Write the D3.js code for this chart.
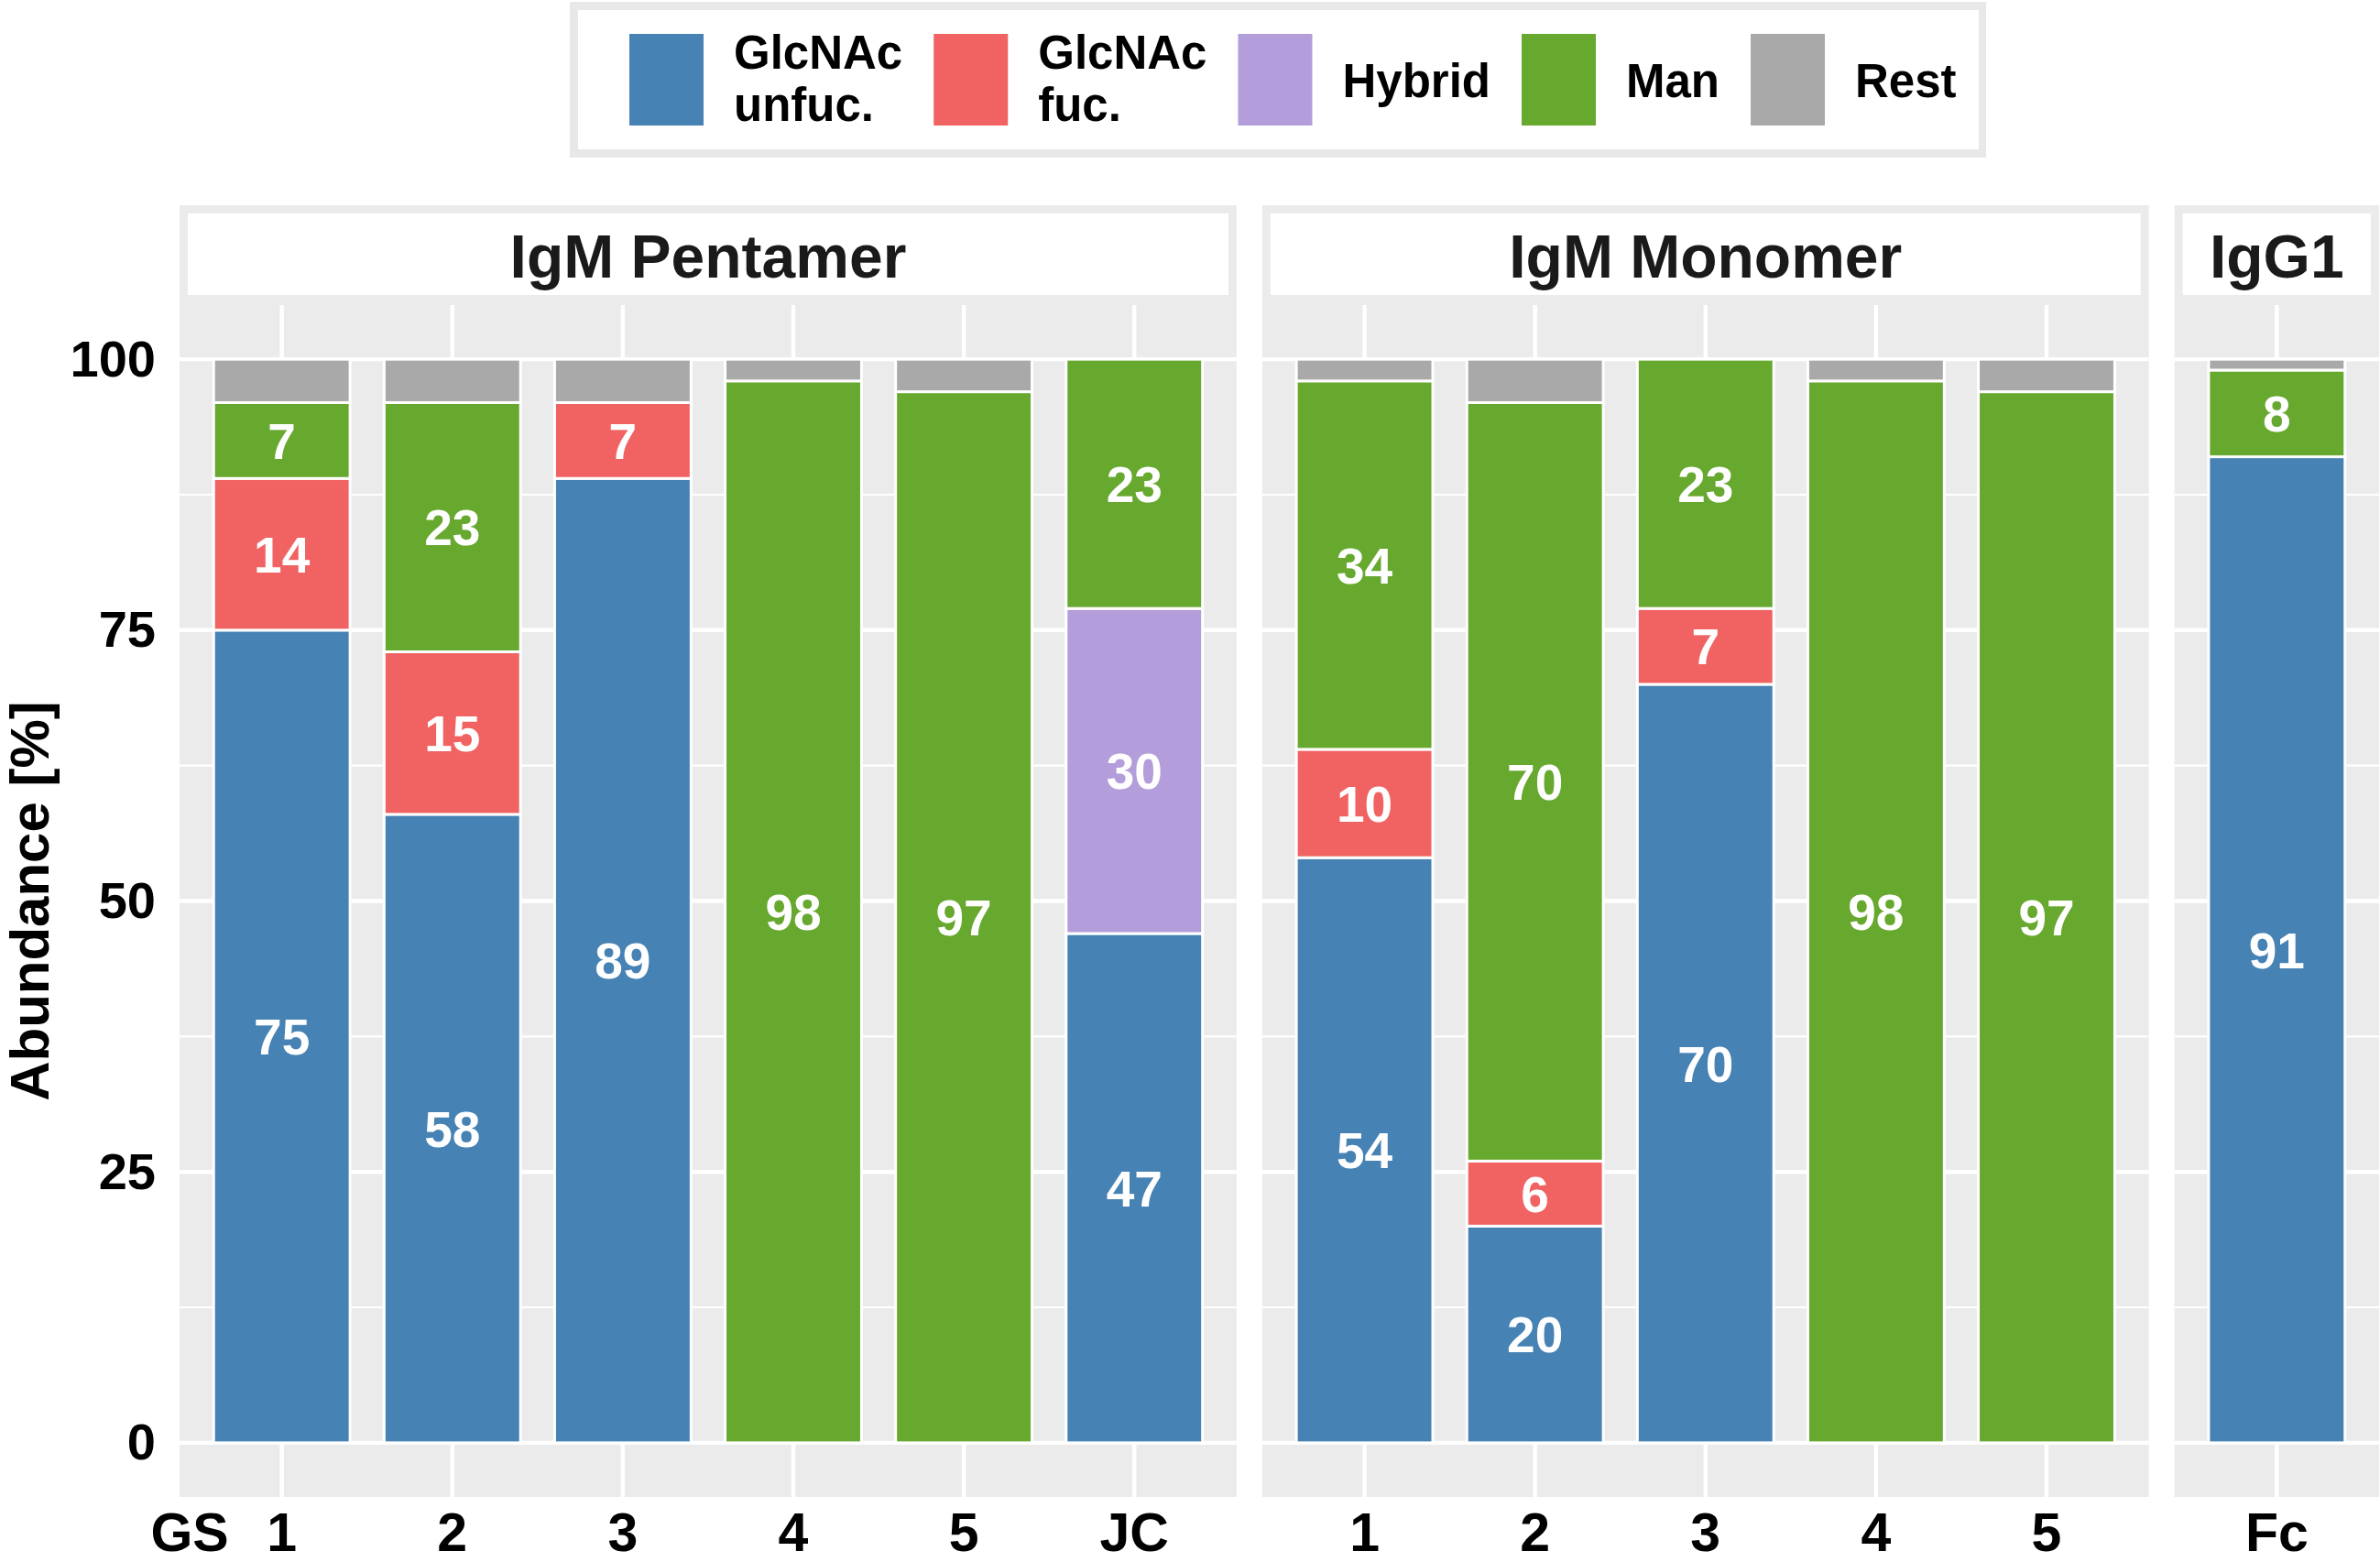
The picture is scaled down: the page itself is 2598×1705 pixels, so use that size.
<!DOCTYPE html>
<html>
<head>
<meta charset="utf-8">
<script src="https://cdn.jsdelivr.net/npm/d3@7"></script>
<style>
  body { margin: 0; background: #fff; }
  text { font-family: "Liberation Sans", Arial, Helvetica, sans-serif; font-weight: bold; }
</style>
</head>
<body>
<div id="chart"></div>
<script>
// ---- data ----
var panelNames = ["IgM Pentamer", "IgM Monomer", "IgG1"];
var pentamerSamples = ["1", "2", "3", "4", "5", "JC"];
var monomerSamples = ["1", "2", "3", "4", "5"];
var igg1Samples = ["Fc"];

var glycanTypes = ["GlcNAc unfuc.", "GlcNAc fuc.", "Hybrid", "Man", "Rest"];
var legendLines = [["GlcNAc", "unfuc."], ["GlcNAc", "fuc."], ["Hybrid"], ["Man"], ["Rest"]];
var glycanColors = ["#4682B4", "#F16363", "#B39DDB", "#67A82E", "#A9A9A9"];

// one value per sample: 6 pentamer, 5 monomer, 1 IgG1
var unfucValues  = [75, 58, 89, 0, 0, 47,   54, 20, 70, 0, 0,   91];
var fucValues    = [14, 15, 7, 0, 0, 0,     10, 6, 7, 0, 0,     0];
var hybridValues = [0, 0, 0, 0, 0, 30,      0, 0, 0, 0, 0,      0];
var manValues    = [7, 23, 0, 98, 97, 23,   34, 70, 23, 98, 97, 8];
var restValues   = [4, 4, 4, 2, 3, 0,       2, 4, 0, 2, 3,      1];

var yTicks = [0, 25, 50, 75, 100];
var yMinorTicks = [12.5, 37.5, 62.5, 87.5];

// ---- layout ----
var width = 2598, height = 1705;
var plotLeft = 196, plotRight = 2597, panelGap = 28;
var stripTop = 224, panelTop = 333, panelBottom = 1634;
var stripBorder = 9;
var panelBg = "#EBEBEB";

var svg = d3.select("#chart").append("svg")
    .attr("width", width)
    .attr("height", height);

var sampleGroups = [pentamerSamples, monomerSamples, igg1Samples];
var seriesValues = [unfucValues, fucValues, hybridValues, manValues, restValues];

var totalUnits = d3.sum(sampleGroups, function(g){ return g.length + 0.2; });
var unit = (plotRight - plotLeft - panelGap * (sampleGroups.length - 1)) / totalUnits;

var y = d3.scaleLinear().domain([-5, 105]).range([panelBottom, panelTop]);
var color = d3.scaleOrdinal().domain(glycanTypes).range(glycanColors);

var offset = 0;
var runningX = plotLeft;

sampleGroups.forEach(function(samples, p){
    var w = (samples.length + 0.2) * unit;
    var x0 = runningX;
    runningX += w + panelGap;

    var rows = samples.map(function(s, i){
        var row = { sample: s };
        glycanTypes.forEach(function(g, k){ row[g] = seriesValues[k][offset + i]; });
        return row;
    });
    offset += samples.length;

    var x = d3.scaleBand()
        .domain(samples)
        .range([x0, x0 + w])
        .paddingInner(0.2)
        .paddingOuter(0.2);

    var g = svg.append("g").attr("class", "panel");

    // panel background + grid
    g.append("rect")
        .attr("x", x0).attr("y", panelTop)
        .attr("width", w).attr("height", panelBottom - panelTop)
        .attr("fill", panelBg);

    g.selectAll(".minor")
        .data(yMinorTicks)
        .enter().append("line")
        .attr("x1", x0).attr("x2", x0 + w)
        .attr("y1", function(d){ return y(d); })
        .attr("y2", function(d){ return y(d); })
        .attr("stroke", "#fff").attr("stroke-width", 2.2);

    g.selectAll(".major")
        .data(yTicks)
        .enter().append("line")
        .attr("x1", x0).attr("x2", x0 + w)
        .attr("y1", function(d){ return y(d); })
        .attr("y2", function(d){ return y(d); })
        .attr("stroke", "#fff").attr("stroke-width", 4.4);

    g.selectAll(".vgrid")
        .data(samples)
        .enter().append("line")
        .attr("x1", function(d){ return x(d) + x.bandwidth() / 2; })
        .attr("x2", function(d){ return x(d) + x.bandwidth() / 2; })
        .attr("y1", panelTop).attr("y2", panelBottom)
        .attr("stroke", "#fff").attr("stroke-width", 4.4);

    // stacked bars
    var stacked = d3.stack().keys(glycanTypes)(rows);

    var layers = g.selectAll(".layer")
        .data(stacked)
        .enter().append("g")
        .attr("fill", function(d){ return color(d.key); });

    layers.selectAll("rect")
        .data(function(d){ return d.filter(function(v){ return v[1] - v[0] > 0; }); })
        .enter().append("rect")
        .attr("x", function(d){ return x(d.data.sample); })
        .attr("width", x.bandwidth())
        .attr("y", function(d){ return y(d[1]); })
        .attr("height", function(d){ return y(d[0]) - y(d[1]); })
        .attr("stroke", "#fff")
        .attr("stroke-width", 3);

    // value labels (not for Rest)
    stacked.forEach(function(layer){
        if (layer.key === "Rest") return;
        g.selectAll(null)
            .data(layer.filter(function(v){ return v[1] - v[0] > 0; }))
            .enter().append("text")
            .attr("x", function(d){ return x(d.data.sample) + x.bandwidth() / 2; })
            .attr("y", function(d){ return y((d[0] + d[1]) / 2); })
            .attr("dy", "0.36em")
            .attr("text-anchor", "middle")
            .attr("font-size", 55)
            .attr("fill", "#fff")
            .text(function(d){ return d[1] - d[0]; });
    });

    // strip
    g.append("rect")
        .attr("x", x0).attr("y", stripTop)
        .attr("width", w).attr("height", panelTop - stripTop)
        .attr("fill", panelBg);
    g.append("rect")
        .attr("x", x0 + stripBorder).attr("y", stripTop + stripBorder)
        .attr("width", w - 2 * stripBorder).attr("height", panelTop - stripTop - 2 * stripBorder - 2)
        .attr("fill", "#fff");
    g.append("text")
        .attr("x", x0 + w / 2)
        .attr("y", 303)
        .attr("text-anchor", "middle")
        .attr("font-size", 66)
        .attr("fill", "#1A1A1A")
        .text(panelNames[p]);

    // x axis
    var xAxis = g.append("g")
        .attr("transform", "translate(0," + panelBottom + ")")
        .call(d3.axisBottom(x).tickSize(0).tickPadding(17));
    xAxis.select(".domain").remove();
    xAxis.selectAll("text")
        .attr("font-size", 59)
        .attr("font-family", "Liberation Sans, Arial, sans-serif")
        .attr("font-weight", "bold")
        .attr("fill", "#000");

    if (p === 0) {
        g.append("text")
            .attr("x", x(samples[0]) + x.bandwidth() / 2 - 58)
            .attr("y", 1693)
            .attr("text-anchor", "end")
            .attr("font-size", 59)
            .attr("fill", "#000")
            .text("GS");
    }
});

// y axis
var yAxis = svg.append("g")
    .attr("transform", "translate(" + plotLeft + ",0)")
    .call(d3.axisLeft(y).tickValues(yTicks).tickSize(0).tickPadding(26));
yAxis.select(".domain").remove();
yAxis.selectAll("text")
    .attr("font-size", 56)
    .attr("font-family", "Liberation Sans, Arial, sans-serif")
    .attr("font-weight", "bold")
    .attr("fill", "#000");

svg.append("text")
    .attr("transform", "translate(31," + ((panelTop + panelBottom) / 2) + ") rotate(-90)")
    .attr("text-anchor", "middle")
    .attr("dy", "0.36em")
    .attr("font-size", 60)
    .attr("fill", "#000")
    .text("Abundance [%]");

// legend
var legend = svg.append("g").attr("class", "legend");
legend.append("rect")
    .attr("x", 622).attr("y", 2).attr("width", 1546).attr("height", 170)
    .attr("fill", "#E8E8E8");
legend.append("rect")
    .attr("x", 631).attr("y", 11).attr("width", 1529).attr("height", 152)
    .attr("fill", "#fff");

var keyX = 687;
glycanTypes.forEach(function(gt, i){
    legend.append("rect")
        .attr("x", keyX).attr("y", 37)
        .attr("width", 81).attr("height", 100)
        .attr("fill", color(gt));

    var label = legend.append("text")
        .attr("font-size", 51)
        .attr("fill", "#000");
    var lines = legendLines[i];
    lines.forEach(function(line, j){
        label.append("tspan")
            .attr("x", keyX + 114)
            .attr("y", lines.length === 2 ? 75 + j * 57 : 106)
            .text(line);
    });
    var labelWidth = d3.max(label.selectAll("tspan").nodes(), function(n){ return n.getComputedTextLength(); });
    keyX = keyX + 114 + labelWidth + 34;
});
</script>
</body>
</html>
